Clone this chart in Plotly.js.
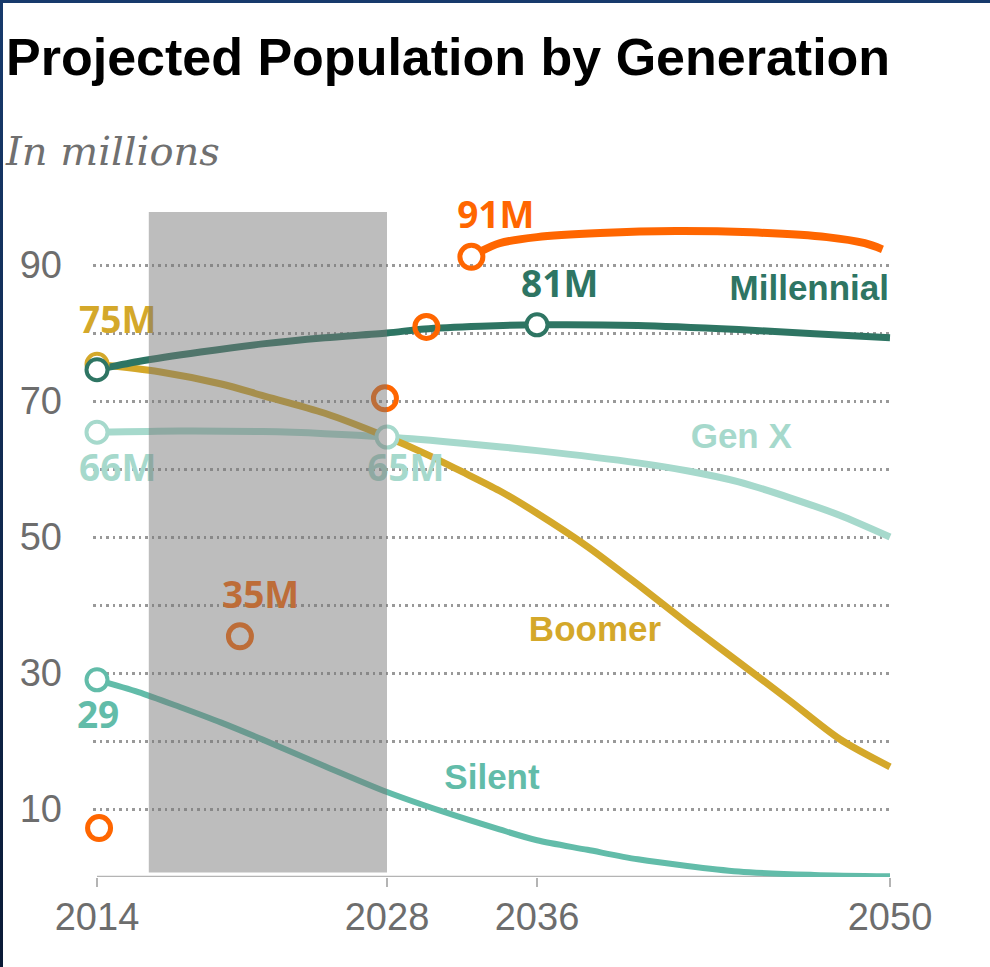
<!DOCTYPE html>
<html>
<head>
<meta charset="utf-8">
<script src="https://cdn.plot.ly/plotly-3.0.1.min.js"></script>
<style>
  html, body { margin: 0; padding: 0; background: #fff; }
  #wrap { position: relative; width: 990px; height: 967px; overflow: hidden; }
  #chart { position: absolute; left: 0; top: 0; width: 990px; height: 967px; }
  #bt { position: absolute; left: 0; top: 0; width: 990px; height: 3px; background: #173a6c; }
  #bl { position: absolute; left: 0; top: 0; width: 3px; height: 967px; background: linear-gradient(#173a6c, #0a1a36); }
</style>
</head>
<body>
<div id="wrap"><div id="chart"></div><div id="bt"></div><div id="bl"></div></div>
<script>
// ---- data ----
const tickYears = [2014, 2028, 2036, 2050];
const yTickVals = [10, 20, 30, 40, 50, 60, 70, 80, 90];
const yTickText = ['10', '', '30', '', '50', '', '70', '', '90'];

const millennialYears = [2014, 2016, 2019, 2022, 2025, 2028, 2030, 2033, 2036, 2040, 2044, 2047, 2050];
const millennialVals  = [74.6, 75.8, 77.2, 78.4, 79.3, 80.0, 80.6, 81.0, 81.2, 81.1, 80.5, 79.9, 79.3];

const boomerYears = [2014, 2017, 2020, 2022, 2025, 2028, 2030, 2032, 2034, 2036, 2038, 2040, 2042, 2044, 2046, 2048, 2050];
const boomerVals  = [75.4, 74.3, 72.5, 70.8, 68.2, 64.7, 62.3, 59.6, 56.8, 53.5, 48.6, 43.0, 37.2, 31.6, 26.0, 20.3, 16.2];

const genXYears = [2014, 2018, 2022, 2025, 2028, 2032, 2036, 2040, 2042, 2044, 2046, 2048, 2050];
const genXVals  = [65.4, 65.6, 65.5, 65.2, 64.7, 63.8, 62.7, 60.9, 59.7, 58.1, 55.8, 53.2, 50.0];

const silentYears = [2014, 2016, 2018, 2020, 2022, 2025, 2028, 2031, 2034, 2036, 2038, 2040, 2044, 2047, 2050];
const silentVals  = [29.0, 27.2, 25.0, 22.7, 20.2, 16.3, 12.5, 9.6, 7.0, 5.4, 4.0, 2.6, 0.8, 0.3, 0.1];

const genZYears = [2033.0, 2034.0, 2036.0, 2038.5, 2041.5, 2044.5, 2047.5, 2049.0, 2049.7];
const genZVals  = [92.0, 93.2, 94.1, 94.7, 95.0, 94.8, 94.1, 93.2, 92.3];

const orangeYears = [2014.1, 2020.9, 2027.9, 2030.1, 2032.5];
const orangeVals  = [7.2, 35.4, 70.4, 80.9, 91.2];

const millennialMarkYears = [2014, 2036], millennialMarkVals = [74.6, 81.2];
const boomerMarkYears = [2014], boomerMarkVals = [75.4];
const genXMarkYears = [2014, 2028], genXMarkVals = [65.4, 64.7];
const silentMarkYears = [2014], silentMarkVals = [29.0];

const shadeYears = [2016.5, 2028];

// labels
const nameLabels = ['Millennial', 'Gen X', 'Boomer', 'Silent'];
const nameYears  = [2046.8, 2044.1, 2038.3, 2033.6];
const nameVals   = [86.2, 64.4, 36.0, 14.3];
const valueLabels = ['75M', '66M', '65M', '29', '35M', '91M', '81M', 'Gen Z'];
const valueYears  = [2015.0, 2015.0, 2029.0, 2014.05, 2021.9, 2033.8, 2036.9, 2047.5];
const valueVals   = [81.3, 59.6, 59.6, 23.2, 40.9, 96.8, 86.6, 99.1];

// ---- non-uniform year axis (the reference spaces its ticks unevenly) ----
const tickUnits = [0, 290, 440, 793];
function xp(y) {
  for (let i = 0; i < tickYears.length - 1; i++) {
    const a = tickYears[i], b = tickYears[i + 1];
    if (y <= b || i === tickYears.length - 2) {
      return tickUnits[i] + (y - a) * (tickUnits[i + 1] - tickUnits[i]) / (b - a);
    }
  }
}
const X = arr => arr.map(xp);

const C = {
  mil: '#2e7563', boom: '#d4a82a', genx: '#a6d9cc', sil: '#62bca9', z: '#ff6600'
};
const SANS = 'Liberation Sans, Arial, sans-serif';
const NOTO = 'Noto Sans, Open Sans, sans-serif';

function line(xs, ys, color, w) {
  return { x: X(xs), y: ys, mode: 'lines', line: { color: color, width: w, shape: 'spline', smoothing: 0.8 }, hoverinfo: 'skip', cliponaxis: false };
}
function marks(xs, ys, color) {
  return { x: X(xs), y: ys, mode: 'markers', marker: { symbol: 'circle', size: 21, color: '#fff', line: { color: color, width: 4 } }, hoverinfo: 'skip', cliponaxis: false };
}

const traces = [
  line(silentYears, silentVals, C.sil, 6),
  line(genXYears, genXVals, C.genx, 7),
  line(boomerYears, boomerVals, C.boom, 7),
  line(millennialYears, millennialVals, C.mil, 7),
  line(genZYears, genZVals, C.z, 8),
  marks(silentMarkYears, silentMarkVals, C.sil),
  marks(genXMarkYears, genXMarkVals, C.genx),
  marks(boomerMarkYears, boomerMarkVals, C.boom),
  marks(millennialMarkYears, millennialMarkVals, C.mil),
  {
    x: X(nameYears), y: nameVals, mode: 'text', text: nameLabels.map(t => '<b>' + t + '</b>'),
    textposition: 'middle center',
    textfont: { family: SANS, size: 35, color: [C.mil, C.genx, C.boom, C.sil] },
    hoverinfo: 'skip', cliponaxis: false
  },
  {
    x: X(valueYears), y: valueVals, mode: 'text', text: valueLabels.map(t => '<b>' + t + '</b>'),
    textposition: 'middle center',
    textfont: { family: NOTO, size: [37, 37, 37, 37, 37, 37, 37, 40],
      color: [C.boom, C.genx, C.genx, C.sil, C.z, C.z, C.mil, C.z] },
    hoverinfo: 'skip', cliponaxis: false
  },
  {
    x: X(orangeYears), y: orangeVals, mode: 'markers',
    marker: { symbol: 'circle-open', size: 23, color: C.z, line: { color: C.z, width: 5 } },
    hoverinfo: 'skip', cliponaxis: false
  }
];

const layout = {
  width: 990, height: 967,
  margin: { l: 93, r: 97, t: 207, b: 90 },
  paper_bgcolor: '#fff', plot_bgcolor: '#fff',
  showlegend: false, hovermode: false,
  title: {
    text: '<b>Projected Population by Generation</b>',
    font: { family: SANS, size: 52, color: '#000' },
    xref: 'container', yref: 'container', x: 6 / 990, xanchor: 'left', y: 1 - 57 / 967, yanchor: 'middle'
  },
  xaxis: {
    range: [-4, 796], tickvals: X(tickYears), ticktext: tickYears.map(String),
    showgrid: false, zeroline: false, showline: false,
    ticks: 'outside', ticklen: 9, tickwidth: 2, tickcolor: '#b4b4b4', ticklabelstandoff: -3,
    tickfont: { family: SANS, size: 38, color: '#6d6d6d' }, fixedrange: true
  },
  yaxis: {
    range: [0, 98.53], tickvals: yTickVals, ticktext: yTickText,
    showgrid: true, gridcolor: '#999999', gridwidth: 3, griddash: '2.5px,4px',
    zeroline: false, showline: false, ticks: '', ticklabelstandoff: 30,
    tickfont: { family: SANS, size: 38, color: '#6d6d6d' }, fixedrange: true
  },
  shapes: [
    { type: 'line', xref: 'x', yref: 'y', x0: xp(tickYears[0]), x1: xp(tickYears[3]), y0: 0, y1: 0,
      line: { color: '#b4b4b4', width: 2.5 }, layer: 'below' },
    { type: 'rect', xref: 'x', yref: 'y', x0: xp(shadeYears[0]), x1: xp(shadeYears[1]), y0: 0.65, y1: 97.8,
      fillcolor: 'rgba(117,117,117,0.48)', line: { width: 0 }, layer: 'above' }
  ],
  annotations: [
    { text: '<i>In millions</i>', xref: 'paper', yref: 'paper', x: (3 - 93) / 800, xanchor: 'left',
      y: (877 - 150.5) / 670, yanchor: 'middle', showarrow: false,
      font: { family: 'DejaVu Serif, serif', size: 40, color: '#707070' } }
  ]
};

Plotly.newPlot('chart', traces, layout, { staticPlot: true, displayModeBar: false });
</script>
</body>
</html>
